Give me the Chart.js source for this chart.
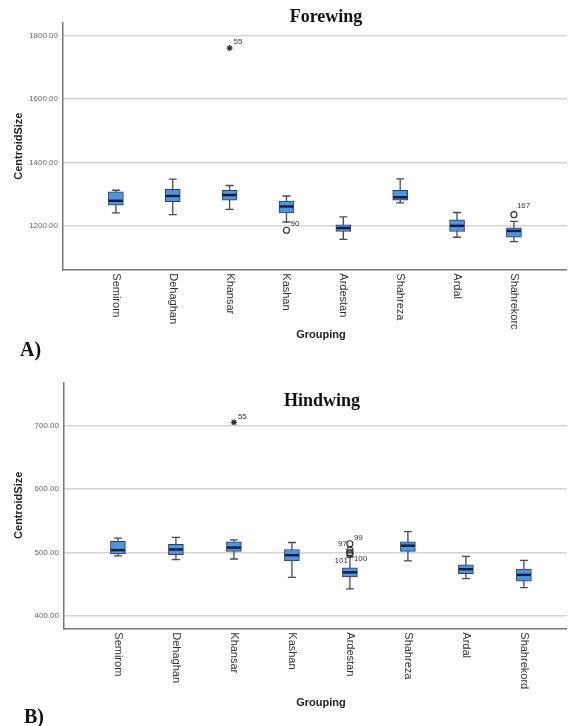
<!DOCTYPE html>
<html lang="en">
<head>
<meta charset="UTF-8">
<title>Centroid size - Forewing / Hindwing</title>
<script src="https://cdn.jsdelivr.net/npm/chart.js"></script>
<style>
  body { margin: 0; background: #fff; }
  .panel { position: absolute; left: 0; }
</style>
</head>
<body>
<div class="panel" style="top:0"><canvas id="foreChart" width="572" height="370"></canvas></div>
<div class="panel" style="top:370px"><canvas id="hindChart" width="572" height="356"></canvas></div>

<script>
// ---- data ----
const categoriesFore = ['Semirom', 'Dehaghan', 'Khansar', 'Kashan', 'Ardestan', 'Shahreza', 'Ardal', 'Shahrekorc'];
const categoriesHind = ['Semirom', 'Dehaghan', 'Khansar', 'Kashan', 'Ardestan', 'Shahreza', 'Ardal', 'Shahrekord'];

// Forewing
const foreLow    = [1241, 1235, 1252, 1212, 1157, 1272, 1164, 1150];
const foreQ1     = [1265, 1276, 1281, 1241, 1182, 1281, 1182, 1164];
const foreMedian = [1279, 1294, 1297, 1261, 1193, 1290, 1200, 1184];
const foreQ3     = [1307, 1315, 1312, 1278, 1203, 1312, 1219, 1194];
const foreHigh   = [1312, 1347, 1327, 1294, 1228, 1348, 1242, 1214];
const foreOutGroup   = [3, 4, 8];
const foreOutValue   = [1760, 1186, 1235];
const foreOutId      = ['55', '90', '167'];
const foreOutExtreme = [true, false, false];
const foreYTicks = [1200, 1400, 1600, 1800];

// Hindwing
const hindLow    = [495, 489, 490, 461, 443, 487, 459, 445];
const hindQ1     = [498, 497, 502, 487, 462, 502, 467, 455];
const hindMedian = [504, 505, 508, 496, 469, 511, 474, 465];
const hindQ3     = [518, 513, 517, 505, 476, 517, 481, 474];
const hindHigh   = [523, 524, 520, 516, 493, 533, 494, 488];
const hindOutGroup   = [3, 5, 5, 5, 5];
const hindOutValue   = [705, 514, 504, 500, 498];
const hindOutId      = ['55', '97', '99', '100', '101'];
const hindOutExtreme = [true, false, false, false, false];
const hindYTicks = [400, 500, 600, 700];

// label placement for the outlier ids  [dx, dy, align]
const foreIdPos = { '55': [4, -6, 'left'], '90': [4, -6, 'left'], '167': [3, -9, 'left'] };
const hindIdPos = { '55': [4, -6, 'left'], '97': [-3, 0, 'right'], '99': [4, -12, 'left'],
                    '100': [4, 6, 'left'], '101': [-2, 7, 'right'] };

const SANS = '"Liberation Sans", Arial, sans-serif';
const SERIF = '"Liberation Serif", "Times New Roman", serif';

// whiskers + medians + all the text around the plot
const boxPlotPlugin = {
    id: 'boxplot',
    beforeDatasetsDraw(chart, args, o) {
        const ctx = chart.ctx, x = chart.scales.x, y = chart.scales.y;
        ctx.save();
        ctx.strokeStyle = '#4a4a4a';
        ctx.lineWidth = 1.3;
        o.low.forEach((lo, i) => {
            const px = x.getPixelForValue(i + 1);
            const yl = y.getPixelForValue(lo), yh = y.getPixelForValue(o.high[i]);
            ctx.beginPath();
            ctx.moveTo(px, yl); ctx.lineTo(px, yh);
            ctx.moveTo(px - 4, yl); ctx.lineTo(px + 4, yl);
            ctx.moveTo(px - 4, yh); ctx.lineTo(px + 4, yh);
            ctx.stroke();
        });
        ctx.restore();
    },
    afterDatasetsDraw(chart, args, o) {
        const ctx = chart.ctx, x = chart.scales.x, y = chart.scales.y, area = chart.chartArea;
        ctx.save();
        // medians
        ctx.strokeStyle = '#0f1d38';
        ctx.lineWidth = 2.4;
        o.median.forEach((m, i) => {
            const px = x.getPixelForValue(i + 1), py = y.getPixelForValue(m);
            ctx.beginPath();
            ctx.moveTo(px - 7, py); ctx.lineTo(px + 7, py);
            ctx.stroke();
        });
        // outlier ids
        ctx.fillStyle = '#333';
        ctx.font = '8px ' + SANS;
        ctx.textBaseline = 'middle';
        o.outId.forEach((id, i) => {
            const p = o.idPos[id];
            ctx.textAlign = p[2];
            ctx.fillText(id, x.getPixelForValue(o.outGroup[i]) + p[0], y.getPixelForValue(o.outValue[i]) + p[1]);
        });
        // category labels, turned clockwise
        ctx.fillStyle = '#333';
        ctx.font = '11px ' + SANS;
        ctx.textAlign = 'left';
        o.labels.forEach((lab, i) => {
            ctx.save();
            ctx.translate(x.getPixelForValue(i + 1), area.bottom + 4);
            ctx.rotate(Math.PI / 2);
            ctx.fillText(lab, 0, 0);
            ctx.restore();
        });
        // axis titles
        ctx.font = 'bold 11px ' + SANS;
        ctx.fillStyle = '#222';
        ctx.textAlign = 'center';
        ctx.fillText('Grouping', 321, o.groupY);
        ctx.save();
        ctx.translate(19, (area.top + area.bottom) / 2);
        ctx.rotate(-Math.PI / 2);
        ctx.fillText('CentroidSize', 0, 0);
        ctx.restore();
        // chart title + panel letter
        ctx.textBaseline = 'alphabetic';
        ctx.font = 'bold 18px ' + SERIF;
        ctx.fillStyle = '#111';
        ctx.fillText(o.title, o.titleX, o.titleY);
        ctx.font = 'bold 20px ' + SERIF;
        ctx.textAlign = 'left';
        ctx.fillText(o.letter, o.letterX, o.letterY);
        ctx.restore();
    }
};

function makePanel(id, p) {
    const boxes = p.q1.map((v, i) => ({ x: i + 1, y: [v, p.q3[i]] }));
    const outliers = p.outValue.map((v, i) => ({ x: p.outGroup[i], y: v }));
    new Chart(document.getElementById(id), {
        type: 'bar',
        data: {
            datasets: [{
                data: boxes,
                backgroundColor: '#5193de',
                borderColor: '#2a3d66',
                borderWidth: 1,
                borderSkipped: false,
                barThickness: 15
            }, {
                type: 'scatter',
                data: outliers,
                pointStyle: p.outExtreme.map(e => e ? 'star' : 'circle'),
                pointRadius: 3,
                borderColor: '#333',
                backgroundColor: 'rgba(255,255,255,0)',
                borderWidth: 1.2
            }]
        },
        plugins: [boxPlotPlugin],
        options: {
            responsive: false,
            animation: false,
            layout: { padding: { left: 0, top: p.top, right: p.right, bottom: 0 } },
            plugins: {
                legend: { display: false },
                tooltip: { enabled: false },
                boxplot: {
                    low: p.low, high: p.high, median: p.median,
                    outGroup: p.outGroup, outValue: p.outValue, outId: p.outId, idPos: p.idPos,
                    labels: p.labels, title: p.title, titleX: p.titleX, titleY: p.titleY,
                    letter: p.letter, letterX: p.letterX, letterY: p.letterY, groupY: p.groupY
                }
            },
            scales: {
                x: {
                    type: 'linear',
                    offset: false,
                    min: p.xMin, max: p.xMax,
                    ticks: { display: false },
                    grid: { display: false },
                    border: { display: true, color: '#777', width: 1.5 },
                    afterFit: s => { s.height = p.xHeight; }
                },
                y: {
                    min: p.yMin, max: p.yMax,
                    afterBuildTicks: s => { s.ticks = p.yTicks.map(v => ({ value: v })); },
                    afterFit: s => { s.width = p.left; },
                    ticks: {
                        padding: 5,
                        color: '#666',
                        font: { size: 8, family: SANS },
                        callback: v => Number(v).toFixed(2)
                    },
                    grid: { color: '#d4d4d4', lineWidth: 1.5, drawTicks: false },
                    border: { display: true, color: '#777', width: 1.5 }
                }
            }
        }
    });
}

makePanel('foreChart', {
    low: foreLow, q1: foreQ1, median: foreMedian, q3: foreQ3, high: foreHigh,
    outGroup: foreOutGroup, outValue: foreOutValue, outId: foreOutId, outExtreme: foreOutExtreme,
    idPos: foreIdPos, yTicks: foreYTicks, labels: categoriesFore,
    yMin: 1063, yMax: 1839, xMin: 0.07, xMax: 8.93,
    top: 23, right: 4, left: 63, xHeight: 100.7,
    title: 'Forewing', titleX: 326, titleY: 22,
    letter: 'A)', letterX: 20, letterY: 356, groupY: 335
});

makePanel('hindChart', {
    low: hindLow, q1: hindQ1, median: hindMedian, q3: hindQ3, high: hindHigh,
    outGroup: hindOutGroup, outValue: hindOutValue, outId: hindOutId, outExtreme: hindOutExtreme,
    idPos: hindIdPos, yTicks: hindYTicks, labels: categoriesHind,
    yMin: 381, yMax: 768, xMin: 0.07, xMax: 8.74,
    top: 12.3, right: 0, left: 64, xHeight: 97.7,
    title: 'Hindwing', titleX: 322, titleY: 36,
    letter: 'B)', letterX: 24, letterY: 353, groupY: 333
});
</script>
</body>
</html>
